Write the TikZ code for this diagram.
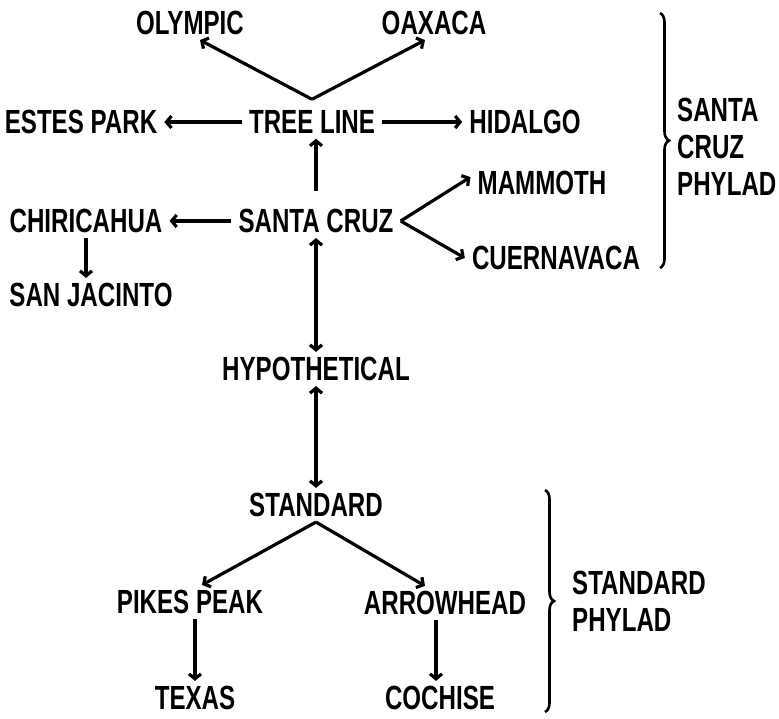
\documentclass[tikz,border=0pt]{standalone}
\usepackage{fontspec}
\newfontfamily\handfont{Liberation Sans}[FakeStretch=0.72]
\usetikzlibrary{arrows.meta,decorations.pathreplacing}

\begin{document}
\begin{tikzpicture}[x=1pt,y=-1pt,
        lbl/.style={inner xsep=7pt,inner ysep=5pt,font=\handfont\bfseries\fontsize{33.5}{37}\selectfont},
        arr/.style={line width=3.2pt,-{Straight Barb[length=5pt,width=12pt]}},
        dbl/.style={line width=3.2pt,{Straight Barb[length=5pt,width=12pt]}-{Straight Barb[length=5pt,width=12pt]}},
        brc/.style={line width=2.6pt,decorate,decoration={brace,amplitude=9pt}}]
        \useasboundingbox (0,0) rectangle (779,718);
        % santa cruz phylad
        \node[lbl] (olympic) at (190,23) {OLYMPIC};
        \node[lbl] (oaxaca) at (434,23) {OAXACA};
        \node[lbl] (estes) at (81,122) {ESTES PARK};
        \node[lbl] (tree) at (312,122) {TREE LINE};
        \node[lbl] (hidalgo) at (525,122) {HIDALGO};
        \node[lbl] (mammoth) at (542,183) {MAMMOTH};
        \node[lbl] (chiri) at (86,221) {CHIRICAHUA};
        \node[lbl] (santa) at (316,221) {SANTA CRUZ};
        \node[lbl] (cuerna) at (556,258) {CUERNAVACA};
        \node[lbl] (sanjac) at (91,295) {SAN JACINTO};
        % standard phylad
        \node[lbl] (hypo) at (316,369) {HYPOTHETICAL};
        \node[lbl] (standard) at (316,505) {STANDARD};
        \node[lbl] (pikes) at (190,602) {PIKES PEAK};
        \node[lbl] (arrowhead) at (445,603) {ARROWHEAD};
        \node[lbl] (texas) at (195,698) {TEXAS};
        \node[lbl] (cochise) at (440,698) {COCHISE};
        \node[lbl,align=left,anchor=north west,inner sep=0pt] (scphylad) at (677,98) {SANTA\\CRUZ\\PHYLAD};
        \node[lbl,align=left,anchor=north west,inner sep=0pt] (stphylad) at (572,571) {STANDARD\\PHYLAD};

        \draw[arr] ([yshift=6pt]tree.north) -- ([xshift=10pt]olympic.south);
        \draw[arr] ([yshift=6pt]tree.north) -- ([xshift=-9pt]oaxaca.south);
        \draw[arr] (tree.west) -- (estes.east);
        \draw[arr] (tree.east) -- (hidalgo.west);
        \draw[arr,shorten <=13pt] (santa.north) -- (santa.north |- tree.south);
        \draw[arr] (santa.west) -- (chiri.east);
        \draw[arr] (santa.east) -- ([yshift=6pt]mammoth.west);
        \draw[arr] (santa.east) -- (cuerna.west);
        \draw[arr] (chiri.south) -- (chiri.south |- sanjac.north);
        \draw[dbl] (santa.south) -- (santa.south |- hypo.north);
        \draw[dbl] (hypo.south) -- (hypo.south |- standard.north);
        \draw[arr] (standard.south) -- ([xshift=12pt]pikes.north);
        \draw[arr] (standard.south) -- ([xshift=-20pt]arrowhead.north);
        \draw[arr] (pikes.south -| texas) -- (texas.north);
        \draw[arr] ([xshift=-9pt]arrowhead.south) -- ([xshift=-9pt]arrowhead.south |- cochise.north);

        \coordinate (b1top) at (660,13);
        \coordinate (b1bot) at (660,268);
        \coordinate (b2top) at (545,490);
        \coordinate (b2bot) at (545,712);
        \draw[brc] (b1top) -- (b1bot);
        \draw[brc] (b2top) -- (b2bot);
    \end{tikzpicture}
\end{document}
